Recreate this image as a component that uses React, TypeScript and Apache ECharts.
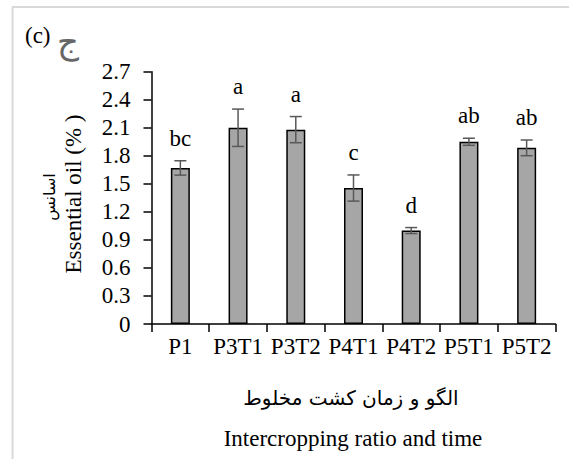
import React, { useEffect, useRef } from "react";
import * as echarts from "echarts";

const categories = ["P1", "P3T1", "P3T2", "P4T1", "P4T2", "P5T1", "P5T2"];
const values = [1.67, 2.1, 2.08, 1.455, 1.0, 1.95, 1.885];
const errors = [0.077, 0.2, 0.14, 0.14, 0.032, 0.038, 0.084];
const letters = ["bc", "a", "a", "c", "d", "ab", "ab"];
const yTicks = { min: 0, max: 2.7, interval: 0.3 };

const SERIF = "'Liberation Serif', 'Times New Roman', serif";
const ARABIC = "'DejaVu Sans', 'Noto Sans', sans-serif";

export default function App() {
  const ref = useRef<HTMLDivElement>(null);
  useEffect(() => {
    if (!ref.current) return;
    const chart = echarts.init(ref.current, undefined, { renderer: "svg" });
    const errData = values.map((v, i) => [i, v, errors[i]]);
    chart.setOption({
      animation: false,
      backgroundColor: "#ffffff",
      grid: { left: 151.5, right: 13.5, top: 71.7, bottom: 135, containLabel: false },
      xAxis: {
        type: "category",
        data: categories,
        axisLine: { lineStyle: { color: "#000", width: 1.5 } },
        axisTick: { show: true, length: 8, lineStyle: { color: "#000", width: 1.5 } },
        axisLabel: { color: "#000", fontFamily: SERIF, fontSize: 23, margin: 11, interval: 0 },
        splitLine: { show: false },
      },
      yAxis: {
        type: "value",
        min: yTicks.min,
        max: yTicks.max,
        interval: yTicks.interval,
        axisLine: { show: true, lineStyle: { color: "#000", width: 1.5 } },
        axisTick: { show: true, length: 8, lineStyle: { color: "#000", width: 1.5 } },
        axisLabel: {
          color: "#000",
          fontFamily: SERIF,
          fontSize: 23,
          margin: 21,
          formatter: (v: number) => (v === 0 ? "0" : v.toFixed(1)),
        },
        splitLine: { show: false },
      },
      series: [
        {
          type: "bar",
          data: values,
          barWidth: 19,
          itemStyle: { color: "#a6a6a6", borderColor: "#000", borderWidth: 1.5 },
          z: 2,
        },
        {
          type: "custom",
          data: errData,
          z: 5,
          renderItem: (params: any, api: any) => {
            const i = api.value(0);
            const v = api.value(1);
            const e = api.value(2);
            const top = api.coord([i, v + e]);
            const bot = api.coord([i, v - e]);
            const half = 6;
            const style = { stroke: "#595959", lineWidth: 1.5 };
            return {
              type: "group",
              children: [
                { type: "line", shape: { x1: top[0], y1: top[1], x2: bot[0], y2: bot[1] }, style },
                { type: "line", shape: { x1: top[0] - half, y1: top[1], x2: top[0] + half, y2: top[1] }, style },
                { type: "line", shape: { x1: bot[0] - half, y1: bot[1], x2: bot[0] + half, y2: bot[1] }, style },
                {
                  type: "text",
                  x: top[0],
                  y: top[1] - 11,
                  style: {
                    text: letters[params.dataIndex],
                    fill: "#000",
                    font: `23px ${SERIF}`,
                    textAlign: "center",
                    textVerticalAlign: "bottom",
                  },
                },
              ],
            };
          },
        },
      ],
      graphic: [
        { type: "line", shape: { x1: 12.5, y1: 7, x2: 12.5, y2: 459 }, style: { stroke: "#d9d9d9", lineWidth: 2 } },
        { type: "line", shape: { x1: 12, y1: 7, x2: 569, y2: 7 }, style: { stroke: "#d9d9d9", lineWidth: 2 } },
        {
          type: "text",
          x: 25,
          y: 35,
          style: { text: "(c)", fill: "#000", font: `23px ${SERIF}`, textAlign: "left", textVerticalAlign: "middle" },
        },
        {
          type: "text",
          x: 68,
          y: 41,
          style: { text: "ج", fill: "#666", font: `34px ${ARABIC}`, textAlign: "center", textVerticalAlign: "middle" },
        },
        {
          type: "text",
          x: 73,
          y: 194,
          rotation: Math.PI / 2,
          style: {
            text: "Essential oil (% )",
            fill: "#000",
            font: `23px ${SERIF}`,
            textAlign: "center",
            textVerticalAlign: "middle",
          },
        },
        {
          type: "text",
          x: 49,
          y: 197,
          rotation: Math.PI / 2,
          style: { text: "اسانس", fill: "#000", font: `16px ${ARABIC}`, textAlign: "center", textVerticalAlign: "middle" },
        },
        {
          type: "text",
          x: 351,
          y: 398,
          style: {
            text: "الگو و زمان کشت مخلوط",
            fill: "#000",
            font: `20px ${ARABIC}`,
            textAlign: "center",
            textVerticalAlign: "middle",
          },
        },
        {
          type: "text",
          x: 353,
          y: 438,
          style: {
            text: "Intercropping ratio and time",
            fill: "#000",
            font: `23px ${SERIF}`,
            textAlign: "center",
            textVerticalAlign: "middle",
          },
        },
      ],
    });
    return () => chart.dispose();
  }, []);
  return <div ref={ref} style={{ position: "absolute", left: 0, top: 0, width: 569, height: 459 }} />;
}
